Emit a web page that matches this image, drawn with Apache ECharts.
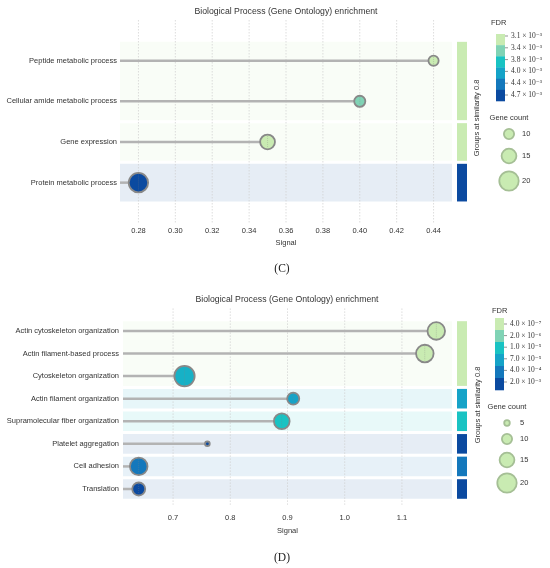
<!DOCTYPE html>
<html>
<head>
<meta charset="utf-8">
<script src="https://cdn.jsdelivr.net/npm/echarts@6/dist/echarts.min.js"></script>
<style>
html, body { margin: 0; padding: 0; background: #fff; }
#main { width: 550px; height: 568px; }
</style>
</head>
<body>
<div id="main"></div>
<script>
// 面板 C 的数据
var termsC = ['Peptide metabolic process', 'Cellular amide metabolic process', 'Gene expression', 'Protein metabolic process'];
var signalC = [0.44, 0.40, 0.35, 0.28];
var fdrC = [3.1e-3, 3.4e-3, 3.1e-3, 4.7e-3];
var countC = [10, 11, 15, 20];
var groupC = [0, 0, 1, 2];
var xTicksC = [0.28, 0.30, 0.32, 0.34, 0.36, 0.38, 0.40, 0.42, 0.44];
var fdrStopsC = [3.1e-3, 3.4e-3, 3.8e-3, 4.0e-3, 4.4e-3, 4.7e-3];
var fdrLabelsC = ['3.1 × 10⁻³', '3.4 × 10⁻³', '3.8 × 10⁻³', '4.0 × 10⁻³', '4.4 × 10⁻³', '4.7 × 10⁻³'];
var sizeLegendC = [10, 15, 20];

// 面板 D 的数据
var termsD = ['Actin cytoskeleton organization', 'Actin filament-based process', 'Cytoskeleton organization',
    'Actin filament organization', 'Supramolecular fiber organization', 'Platelet aggregation',
    'Cell adhesion', 'Translation'];
var signalD = [1.16, 1.14, 0.72, 0.91, 0.89, 0.76, 0.64, 0.64];
var fdrD = [4.0e-7, 4.0e-7, 3.0e-5, 7.0e-5, 1.0e-5, 2.0e-3, 4.0e-4, 2.0e-3];
var countD = [18, 18, 21, 12, 16, 4, 18, 13];
var groupD = [0, 0, 0, 1, 2, 3, 4, 5];
var xTicksD = [0.7, 0.8, 0.9, 1.0, 1.1];
var fdrStopsD = [4.0e-7, 2.0e-6, 1.0e-5, 7.0e-5, 4.0e-4, 2.0e-3];
var fdrLabelsD = ['4.0 × 10⁻⁷', '2.0 × 10⁻⁶', '1.0 × 10⁻⁵', '7.0 × 10⁻⁵', '4.0 × 10⁻⁴', '2.0 × 10⁻³'];
var sizeLegendD = [5, 10, 15, 20];

var palette = ['#c9ebb2', '#80d3b5', '#19c3c3', '#15a3c8', '#1478bc', '#0b4aa0'];
var sansFont = 'Liberation Sans, Arial, sans-serif';
var serifFont = 'Liberation Serif, DejaVu Serif, serif';

function hexToRgb(h) {
    return [parseInt(h.substr(1, 2), 16), parseInt(h.substr(3, 2), 16), parseInt(h.substr(5, 2), 16)];
}

function fdrColor(f, stops) {
    var pos = 0;
    if (f >= stops[stops.length - 1]) {
        pos = stops.length - 1;
    } else if (f > stops[0]) {
        for (var i = 0; i < stops.length - 1; i++) {
            if (f >= stops[i] && f <= stops[i + 1]) {
                pos = i + (Math.log(f) - Math.log(stops[i])) / (Math.log(stops[i + 1]) - Math.log(stops[i]));
                break;
            }
        }
    }
    var i0 = Math.floor(pos), i1 = Math.min(i0 + 1, palette.length - 1), t = pos - i0;
    var a = hexToRgb(palette[i0]), b = hexToRgb(palette[i1]);
    return 'rgb(' + Math.round(a[0] + (b[0] - a[0]) * t) + ',' + Math.round(a[1] + (b[1] - a[1]) * t) + ',' + Math.round(a[2] + (b[2] - a[2]) * t) + ')';
}

function fade(c, alpha) {
    return c.replace('rgb(', 'rgba(').replace(')', ',' + alpha + ')');
}

function bubbleSize(n) {
    return 1 + 0.92 * n;
}

function buildSeries(p) {
    var colors = p.fdr.map(function (f) { return fdrColor(f, p.stops); });
    var groups = [];
    p.group.forEach(function (g, i) {
        if (!groups[g]) groups[g] = { first: i, last: i, fdr: p.fdr[i] };
        groups[g].last = i;
        groups[g].fdr = Math.min(groups[g].fdr, p.fdr[i]);
    });
    groups.forEach(function (g) { g.color = fdrColor(g.fdr, p.stops); });

    var axes = { xAxisIndex: p.index, yAxisIndex: p.index };
    return [
        // 分组背景和右侧色条
        Object.assign({
            type: 'custom',
            z: 1,
            silent: true,
            data: groups.map(function (g) { return [g.first, g.last]; }),
            renderItem: function (params, api) {
                var g = groups[params.dataIndex];
                var a = api.coord([p.xMin, g.first - 0.5]);
                var b = api.coord([p.xMax, g.last + 0.5]);
                var top = a[1] + 1.5, h = b[1] - a[1] - 3;
                return {
                    type: 'group',
                    children: [
                        { type: 'rect', shape: { x: a[0], y: top, width: b[0] - a[0], height: h }, style: { fill: fade(g.color, 0.1) } },
                        { type: 'rect', shape: { x: b[0] + 5, y: top, width: 10, height: h }, style: { fill: g.color } }
                    ]
                };
            }
        }, axes),
        // 虚线网格
        Object.assign({
            type: 'custom',
            z: 2,
            silent: true,
            data: p.ticks.map(function (v) { return [v]; }),
            renderItem: function (params, api) {
                var a = api.coord([api.value(0), p.yMin]);
                var b = api.coord([api.value(0), p.yMax]);
                return {
                    type: 'line',
                    shape: { x1: a[0], y1: a[1], x2: b[0], y2: b[1] },
                    style: { stroke: '#cfcfcf', lineWidth: 0.7, lineDash: [1.5, 1.5] }
                };
            }
        }, axes),
        // 棒
        Object.assign({
            type: 'custom',
            z: 3,
            silent: true,
            data: p.signal.map(function (v, i) { return [v, i]; }),
            renderItem: function (params, api) {
                var a = api.coord([p.xMin, api.value(1)]);
                var b = api.coord([api.value(0), api.value(1)]);
                return {
                    type: 'line',
                    shape: { x1: a[0], y1: a[1], x2: b[0], y2: b[1] },
                    style: { stroke: '#b3b3b3', lineWidth: 2.5 }
                };
            }
        }, axes),
        // 气泡
        Object.assign({
            type: 'scatter',
            z: 4,
            data: p.signal.map(function (v, i) {
                return {
                    value: [v, i],
                    symbolSize: bubbleSize(p.count[i]),
                    itemStyle: { color: colors[i] }
                };
            }),
            itemStyle: { borderColor: '#888', borderWidth: 1.8, opacity: 1 }
        }, axes),
        // 气泡中心的细虚线
        Object.assign({
            type: 'custom',
            z: 5,
            silent: true,
            data: p.signal.map(function (v, i) { return [v, i, p.count[i]]; }),
            renderItem: function (params, api) {
                var c = api.coord([api.value(0), api.value(1)]);
                var r = bubbleSize(api.value(2)) / 2 - 1.5;
                if (r < 3) return null;
                return {
                    type: 'line',
                    shape: { x1: c[0], y1: c[1] - r, x2: c[0], y2: c[1] + r },
                    style: { stroke: 'rgba(130,130,130,0.45)', lineWidth: 0.7, lineDash: [1, 1] }
                };
            }
        }, axes)
    ];
}

function buildLegend(p) {
    var els = [];
    els.push({ type: 'text', x: p.lx, y: p.fdrTitleY, style: { text: 'FDR', font: '7.5px ' + sansFont, fill: '#333', align: 'left', verticalAlign: 'middle' } });
    var bh = (p.barBottom - p.barTop) / palette.length;
    palette.forEach(function (c, i) {
        els.push({ type: 'rect', shape: { x: p.barX, y: p.barTop + i * bh, width: 9, height: bh + 0.3 }, style: { fill: c } });
    });
    p.fdrLabels.forEach(function (t, i) {
        var y = p.labelTop + i * p.labelStep;
        els.push({ type: 'line', shape: { x1: p.barX + 9, y1: y, x2: p.barX + 12, y2: y }, style: { stroke: '#666', lineWidth: 0.7 } });
        els.push({ type: 'text', x: p.barX + 15, y: y, style: { text: t, font: '7.5px ' + serifFont, fill: '#333', align: 'left', verticalAlign: 'middle' } });
    });
    els.push({ type: 'text', x: p.gcX, y: p.gcTitleY, style: { text: 'Gene count', font: '7.5px ' + sansFont, fill: '#333', align: 'center', verticalAlign: 'middle' } });
    p.sizes.forEach(function (n, i) {
        els.push({ type: 'circle', shape: { cx: p.gcX, cy: p.gcY[i], r: bubbleSize(n) / 2 }, style: { fill: palette[0], stroke: '#a5bf95', lineWidth: 1.8 } });
        els.push({ type: 'text', x: p.gcX + 13, y: p.gcY[i], style: { text: String(n), font: '7.5px ' + sansFont, fill: '#333', align: 'left', verticalAlign: 'middle' } });
    });
    els.push({ type: 'text', x: p.grpX, y: p.grpY, rotation: Math.PI / 2, style: { text: 'Groups at similarity 0.8', font: '7.5px ' + sansFont, fill: '#333', align: 'center', verticalAlign: 'middle' } });
    els.push({ type: 'text', x: p.titleX, y: p.titleY, style: { text: 'Biological Process (Gene Ontology) enrichment', font: '8.7px ' + sansFont, fill: '#333', align: 'center', verticalAlign: 'middle' } });
    els.push({ type: 'text', x: 282, y: p.capY, style: { text: p.caption, font: '11.5px ' + serifFont, fill: '#222', align: 'center', verticalAlign: 'middle' } });
    return els;
}

var panelC = { index: 0, signal: signalC, fdr: fdrC, count: countC, group: groupC, stops: fdrStopsC, ticks: xTicksC, xMin: 0.27, xMax: 0.45, yMin: -1, yMax: 4 };
var panelD = { index: 1, signal: signalD, fdr: fdrD, count: countD, group: groupD, stops: fdrStopsD, ticks: xTicksD, xMin: 0.6125, xMax: 1.1875, yMin: -1, yMax: 7.7 };

var axisText = { fontSize: 7.5, color: '#333', fontFamily: sansFont };

var option = {
    animation: false,
    backgroundColor: '#fff',
    grid: [
        { left: 120, right: 98, top: 20, bottom: 344.7 },
        { left: 123, right: 98, top: 308.4, bottom: 63.2 }
    ],
    xAxis: [
        {
            type: 'value', gridIndex: 0, min: 0.27, max: 0.45, interval: 0.01,
            name: 'Signal', nameLocation: 'middle', nameGap: 16, nameTextStyle: axisText,
            axisLine: { show: false }, axisTick: { show: false }, splitLine: { show: false },
            axisLabel: Object.assign({ margin: 4, formatter: function (v) {
                var k = Math.round(v * 100);
                return (k % 2 === 0 && Math.abs(v * 100 - k) < 1e-6) ? v.toFixed(2) : '';
            } }, axisText)
        },
        {
            type: 'value', gridIndex: 1, min: 0.6125, max: 1.1875, interval: 0.0125,
            name: 'Signal', nameLocation: 'middle', nameGap: 22, nameTextStyle: axisText,
            axisLine: { show: false }, axisTick: { show: false }, splitLine: { show: false },
            axisLabel: Object.assign({ margin: 9, formatter: function (v) {
                return Math.abs(v * 10 - Math.round(v * 10)) < 1e-6 ? v.toFixed(1) : '';
            } }, axisText)
        }
    ],
    yAxis: [
        {
            type: 'value', gridIndex: 0, inverse: true, min: -1, max: 4, interval: 1,
            axisLine: { show: false }, axisTick: { show: false }, splitLine: { show: false },
            axisLabel: Object.assign({ margin: 3, formatter: function (v) { return termsC[v] || ''; } }, axisText)
        },
        {
            type: 'value', gridIndex: 1, inverse: true, min: -1, max: 7.7, interval: 1,
            axisLine: { show: false }, axisTick: { show: false }, splitLine: { show: false },
            axisLabel: Object.assign({ margin: 4, formatter: function (v) { return termsD[v] || ''; } }, axisText)
        }
    ],
    graphic: buildLegend({
        lx: 491, fdrTitleY: 23, barX: 496, barTop: 34, barBottom: 101, labelTop: 36, labelStep: 11.8,
        fdrLabels: fdrLabelsC, gcX: 509, gcTitleY: 118, sizes: sizeLegendC, gcY: [134, 156, 181],
        grpX: 477, grpY: 118, titleX: 286, titleY: 12, caption: '(C)', capY: 269
    }).concat(buildLegend({
        lx: 492, fdrTitleY: 311, barX: 495, barTop: 318, barBottom: 390, labelTop: 324, labelStep: 11.6,
        fdrLabels: fdrLabelsD, gcX: 507, gcTitleY: 407, sizes: sizeLegendD, gcY: [423, 439, 460, 483],
        grpX: 478, grpY: 405, titleX: 287, titleY: 300, caption: '(D)', capY: 558
    })),
    series: buildSeries(panelC).concat(buildSeries(panelD))
};

var chart = echarts.init(document.getElementById('main'));
chart.setOption(option);
</script>
</body>
</html>
